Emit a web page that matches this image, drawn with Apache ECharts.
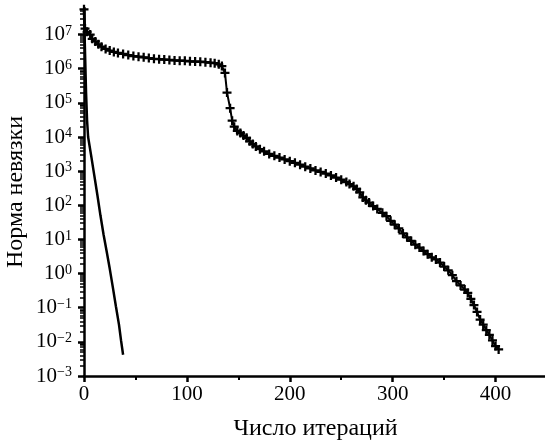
<!DOCTYPE html>
<html><head><meta charset="utf-8">
<script src="https://cdn.jsdelivr.net/npm/echarts@6/dist/echarts.min.js"></script>
<style>html,body{margin:0;padding:0;background:#fff}#c{width:545px;height:440px}</style>
</head><body><div id="c"></div>
<script>
// Series 1 (with "+" markers): iteration, residual norm
const iter1 = [0,1,3,6,8,11,14,17,21,25,29,33,38,43,48,53,58,63,68,73,78,83,88,93,98,103,108,113,118,123,127,131,134,137,139,142,144,146,149,152,155,158,161,164,167,171,175,180,185,190,195,200,205,210,215,220,225,230,235,240,245,250,255,258,262,265,268,271,274,277,281,285,290,294,298,302,306,310,314,318,322,326,330,334,338,342,346,350,354,358,362,366,370,373,376,379,382,385,388,391,394,397,400,403];
const norm1 = [5.5e7,1.5e7,1.2e7,1.0e7,7.5e6,6.3e6,5.2e6,4.4e6,3.8e6,3.4e6,3.1e6,2.9e6,2.7e6,2.5e6,2.35e6,2.25e6,2.15e6,2.05e6,1.95e6,1.9e6,1.85e6,1.8e6,1.75e6,1.72e6,1.7e6,1.65e6,1.62e6,1.6e6,1.55e6,1.5e6,1.45e6,1.35e6,1.2e6,7.5e5,2.0e5,7.0e4,3.0e4,2.0e4,1.5e4,1.3e4,1.1e4,9.5e3,7.5e3,6.2e3,5.3e3,4.4e3,3.8e3,3.2e3,2.8e3,2.5e3,2.2e3,1.95e3,1.75e3,1.55e3,1.35e3,1.2e3,1.05e3,950,850,750,650,560,480,420,360,300,240,170,140,120,95,78,60,48,35,27,21,15,11.5,9,7,5.8,4.6,3.7,3.0,2.6,2.1,1.6,1.25,0.9,0.6,0.45,0.34,0.27,0.18,0.12,0.075,0.045,0.032,0.022,0.016,0.011,0.0075,0.006];
// Series 2 (plain line)
const iter2 = [0,1,2,3,4,7,10,13,16,19,22,25,28,31,34,36,38];
const norm2 = [5e7,3e6,2e5,3e4,1.0e4,2.8e3,750,200,50,14,4.5,1.4,0.4,0.11,0.032,0.011,0.0042];
// Axis ticks
const xTicks = [0,100,200,300,400];
const yMajor = [1e-3,1e-2,1e-1,1,10,100,1e3,1e4,1e5,1e6,1e7];
const Y_MIN = 1e-3, Y_MAX = 6e7;

const yMinor = [];
for (const p of yMajor) for (let k = 2; k <= 9; k++) { const v = k * p; if (v < Y_MAX) yMinor.push(v); }
const lg = v => Math.log10(v);

const FONT = 'Liberation Serif';
const plus = 'path://M3,0 H5 V3 H8 V5 H5 V8 H3 V5 H0 V3 H3 Z';
const chart = echarts.init(document.getElementById('c'), null, {renderer: 'canvas'});
const sup = e => (e < 0 ? '\u2212' + (-e) : '' + e);
const tickAxis = (vals, len, w) => ({
  type: 'value', min: lg(Y_MIN), max: lg(Y_MAX), position: 'left', offset: 0,
  axisLine: {show: false},
  axisTick: {show: true, length: len, customValues: vals.map(lg), lineStyle: {color: '#000', width: w}},
  axisLabel: {show: false}, splitLine: {show: false}
});
chart.setOption({
  animation: false,
  backgroundColor: '#fff',
  grid: {left: 84, right: -2, top: 8, bottom: 64, containLabel: false, outerBoundsMode: 'none'},
  xAxis: {
    type: 'value', min: 0, max: 450, interval: 100,
    name: 'Число итераций', nameLocation: 'middle', nameGap: 41, nameMoveOverlap: false,
    nameTextStyle: {fontFamily: FONT, fontSize: 24, color: '#000'},
    axisLine: {show: true, onZero: false, lineStyle: {color: '#000', width: 2.5}},
    axisTick: {show: true, length: 6, lineStyle: {color: '#000', width: 2.5}},
    minorTick: {show: true, splitNumber: 2, length: 4, lineStyle: {color: '#000', width: 2}},
    axisLabel: {fontFamily: FONT, fontSize: 21, color: '#000', margin: 8, showMaxLabel: false},
    splitLine: {show: false}
  },
  yAxis: [{
    type: 'log', logBase: 10, min: Y_MIN, max: Y_MAX,
    name: 'Норма невязки', nameLocation: 'middle', nameGap: 56, nameMoveOverlap: false,
    nameTextStyle: {fontFamily: FONT, fontSize: 24, color: '#000'},
    axisLine: {show: true, onZero: false, lineStyle: {color: '#000', width: 2.5}},
    axisTick: {show: false},
    axisLabel: {
      customValues: yMajor, margin: 12,
      formatter: v => '{b|10}{s|' + sup(Math.round(Math.log10(v))) + '}',
      rich: {
        b: {fontFamily: FONT, fontSize: 21, color: '#000'},
        s: {fontFamily: FONT, fontSize: 14, color: '#000', verticalAlign: 'top'}
      }
    },
    splitLine: {show: false}
  }, tickAxis(yMajor, 6, 2.5), tickAxis(yMinor, 4, 1.5)],
  series: [{
    type: 'line', data: iter1.map((x, i) => [x, norm1[i]]),
    symbol: plus, symbolSize: 9, showAllSymbol: true,
    itemStyle: {color: '#000'}, lineStyle: {color: '#000', width: 2}
  }, {
    type: 'line', data: iter2.map((x, i) => [x, norm2[i]]),
    symbol: 'none', lineStyle: {color: '#000', width: 2.5}
  }]
});
</script></body></html>
